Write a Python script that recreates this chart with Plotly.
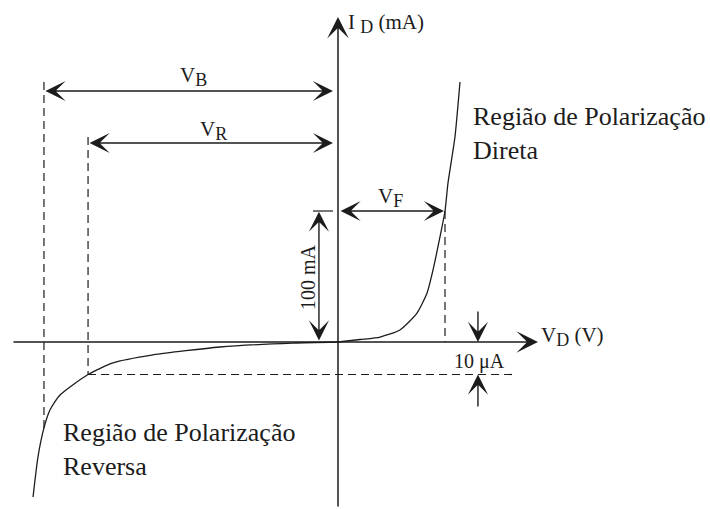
import numpy as np
import plotly.graph_objects as go

# Diode I-V characteristic (schematic units: V normalised so V_F = 1,
# current scaled so the 100 mA reference level = 100)
fwd_v = [0.0, 0.206, 0.393, 0.579, 0.738, 0.832, 0.888, 0.953, 1.0, 1.028, 1.093, 1.140]
fwd_i = [0.0, 1.9, 3.8, 9.2, 22.1, 37.4, 55.0, 80.2, 100.0, 121.4, 156.5, 198.5]

rev_v = [0.0, -0.421, -1.103, -1.729, -2.103, -2.336, -2.598, -2.692, -2.748, -2.804, -2.850]
rev_i = [0.0, -0.8, -3.8, -9.9, -16.0, -24.8, -40.5, -51.9, -65.6, -87.8, -118.3]

# Characteristic voltages and currents
V_F = 1.0
V_R = -2.336
V_B = -2.748
I_F = 100.0      # 100 mA level
I_R = -24.8      # 10 uA level (reverse saturation)

# Axis extents
X_MIN, X_MAX = -3.047, 1.869
Y_MIN, Y_MAX = -126.7, 248.1

INK = "#1c1c1c"
FONT = "Liberation Serif"

fig = go.Figure()

# Curve branches
fig.add_trace(go.Scatter(x=fwd_v, y=fwd_i, mode="lines",
                         line=dict(color=INK, width=1.3, shape="spline", smoothing=0.6),
                         hoverinfo="skip"))
fig.add_trace(go.Scatter(x=rev_v, y=rev_i, mode="lines",
                         line=dict(color=INK, width=1.3, shape="spline", smoothing=0.6),
                         hoverinfo="skip"))

# Dashed guide lines
i_at_vb = float(np.interp(V_B, rev_v[::-1], rev_i[::-1]))
dash = dict(color=INK, width=1.2, dash="8px,5px")
guides = [
    ([V_B, V_B], [198.5, i_at_vb]),
    ([V_R, V_R], [156.5, I_R]),
    ([V_R, 1.654], [I_R, I_R]),
    ([V_F, V_F], [I_F, 0.0]),
]
for gx, gy in guides:
    fig.add_trace(go.Scatter(x=gx, y=gy, mode="lines", line=dash, hoverinfo="skip"))

# Short tick marking the 100 mA level
fig.add_trace(go.Scatter(x=[-0.234, -0.047], y=[I_F, I_F], mode="lines",
                         line=dict(color=INK, width=1.2), hoverinfo="skip"))


def arrow(x0, y0, x1, y1, both=False, width=1.4):
    fig.add_annotation(x=x1, y=y1, ax=x0, ay=y0, xref="x", yref="y",
                       axref="x", ayref="y", text="", showarrow=True,
                       arrowhead=3, startarrowhead=3, arrowsize=2.4,
                       startarrowsize=2.4, arrowwidth=width, arrowcolor=INK,
                       arrowside="end+start" if both else "end",
                       standoff=0, startstandoff=0)


# Axes with arrow tips
arrow(X_MIN, 0, X_MAX, 0, width=1.5)
arrow(0, Y_MIN, 0, Y_MAX, width=1.5)

# Dimension arrows
arrow(V_B, 191.6, -0.047, 191.6, both=True)
arrow(V_R, 151.9, -0.047, 151.9, both=True)
arrow(0.01, I_F, V_F - 0.01, I_F, both=True)
arrow(-0.178, 0.0, -0.178, I_F - 0.5, both=True)
arrow(1.308, 24.4, 1.308, 0.0)
arrow(1.308, -50.4, 1.308, I_R)


def label(x, y, text, size=21, xanchor="center", yanchor="middle", angle=0, align="center"):
    fig.add_annotation(x=x, y=y, xref="x", yref="y", text=text, showarrow=False,
                       xanchor=xanchor, yanchor=yanchor, textangle=angle, align=align,
                       font=dict(family=FONT, size=size, color=INK))


def sub(s):
    return "<sub><span style='font-size:18px'>" + s + "</span></sub>"


label(0.075, 243.5, "I " + sub("D") + " (mA)", xanchor="left")
label(1.880, 4.0, "V" + sub("D") + " (V)", xanchor="left")
label(-1.355, 203.0, "V" + sub("B"))
label(-1.168, 161.5, "V" + sub("R"))
label(0.495, 110.5, "V" + sub("F"))
label(-0.280, 49.6, "100 mA", size=20, angle=-90)
label(1.318, -14.5, "10 μA", size=20)
label(1.245, 159.0, "Região de Polarização<br>Direta", size=26, xanchor="left", align="left")
label(-2.590, -82.0, "Região de Polarização<br>Reversa", size=26, xanchor="left", align="left")

fig.update_layout(
    width=710, height=509,
    margin=dict(l=0, r=0, t=0, b=0),
    paper_bgcolor="white", plot_bgcolor="white",
    showlegend=False,
    xaxis=dict(range=[-338 / 107, 372 / 107], visible=False, fixedrange=True),
    yaxis=dict(range=[-167 / 1.31, 342 / 1.31], visible=False, fixedrange=True),
)

fig.write_html("out.html")
